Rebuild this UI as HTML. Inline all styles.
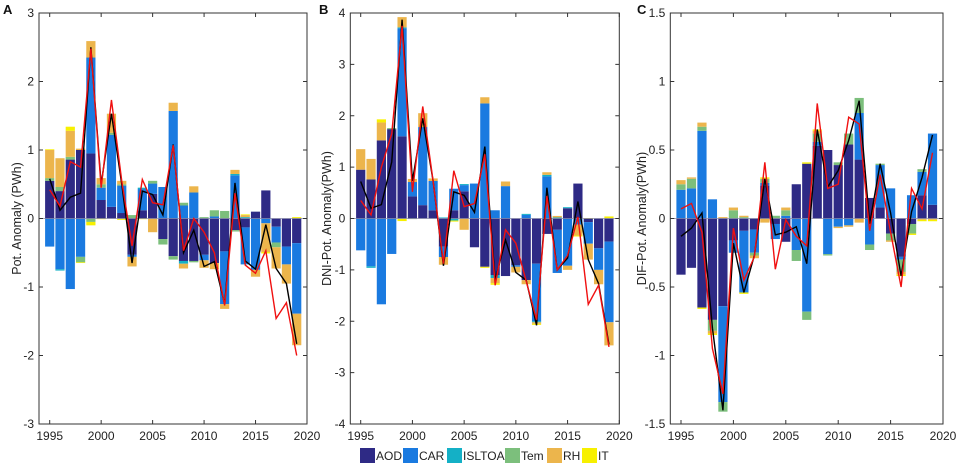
<!DOCTYPE html>
<html><head><meta charset="utf-8"><style>
html,body{margin:0;padding:0;background:#fff;}
svg{display:block;font-family:"Liberation Sans",sans-serif;}
</style></head><body>
<svg id="s" width="957" height="464" viewBox="0 0 957 464" xmlns="http://www.w3.org/2000/svg"></svg>
<script>
const C=['#2e2a85','#1a7ae0','#14b0c6','#7cbf7c','#ecb54c','#f7f000'];
const A=[[.55,-.41,0,.04,.41,.01],[.4,-.74,-.02,.06,.42,0],[.86,-1.03,0,.04,.38,.06],[1.0,-.56,0,-.08,.02,-.01],[.95,1.4,0,-.05,.24,-.05],[.27,.18,0,.05,.09,-.01],[.17,1.05,0,.03,.28,0],[.08,.4,0,.02,.05,-.02],[-.53,-.03,0,.05,-.14,0],[.12,.31,.02,0,0,-.01],[.36,.15,0,.04,-.2,0],[-.3,.46,0,-.08,0,0],[-.55,1.57,0,-.05,.12,0],[-.62,.19,-.04,.04,-.07,0],[-.62,.38,0,-.02,.09,0],[-.53,-.08,0,.02,-.11,0],[-.65,.03,0,.09,-.09,0],[-.48,-.77,0,.11,-.07,0],[-.17,.63,.02,-.02,.06,0],[-.13,-.54,.02,0,.03,.01],[.1,-.75,0,0,-.1,0],[.41,-.07,0,0,-.42,-.02],[-.12,-.23,0,-.07,-.31,0],[-.41,-.26,0,0,-.28,0],[-.36,-1.03,0,0,-.46,.02]];
const Ak=[.58,.12,.31,.37,2.5,.5,1.53,.5,-.65,.4,.35,.05,1.08,-.5,-.17,-.7,-.63,-1.25,.52,-.62,-.74,-.09,-.73,-.95,-1.83];
const Ar=[.42,.18,.83,.75,2.48,.45,1.73,.55,-.4,.57,.23,.2,1.07,-.47,0,-.2,-.5,-1.27,.37,-.68,-.8,-.47,-1.46,-1.23,-2.0];
const B=[[.95,-.62,0,0,.4,0],[.76,-.93,-.03,0,.4,0],[1.52,-1.67,0,0,.35,.06],[1.74,-.69,0,.02,0,0],[1.6,2.1,.02,0,.2,-.05],[.43,.28,0,-.01,.06,0],[.26,1.52,0,0,.27,0],[.16,.57,0,0,.05,0],[-.55,-.2,.02,0,-.15,0],[.16,.42,-.04,0,0,-.02],[.53,.12,.02,0,-.22,0],[-.56,.68,0,0,0,0],[-.94,2.24,0,0,.12,-.02],[-1.1,.16,-.06,0,-.1,-.03],[-1.12,.63,0,0,.09,0],[-.91,-.03,0,0,-.11,0],[-1.2,.07,.02,0,-.08,0],[-.88,-1.12,-.02,0,-.03,-.02],[-.3,.82,.03,0,.05,0],[-.22,-.84,.02,0,.03,0],[.2,-.92,.02,0,-.08,0],[.68,-.12,0,0,-.21,-.02],[-.07,-.42,0,0,-.31,.01],[-.58,-.42,0,0,-.28,0],[-.45,-1.57,0,0,-.45,.04]];
const Bk=[.72,.2,.27,1.1,3.87,.73,1.95,.73,-.92,.52,.45,.12,1.4,-1.2,-.42,-1.05,-1.2,-2.08,.6,-1.0,-.77,.33,-.8,-1.27,-2.45];
const Br=[.35,.07,1.0,1.65,3.75,.52,2.18,.73,-.88,.93,.23,.29,1.25,-1.3,-.22,-.48,-1.22,-1.97,.44,-1.0,-.72,.03,-1.67,-1.3,-2.5];
const Cc=[[-.41,.21,0,.04,.03,0],[-.36,.22,0,.07,.01,0],[-.65,.64,0,.03,.03,-.01],[-.74,.14,0,-.08,-.02,-.01],[-.64,-.7,0,-.07,.01,0],[-.16,-.09,0,.06,.02,0],[-.09,-.45,0,.01,.01,-.01],[-.08,-.17,0,-.02,-.02,0],[.24,.02,0,.03,-.03,.01],[-.04,-.11,0,.02,0,0],[-.17,.02,0,.04,.02,0],[.25,-.23,0,-.08,0,0],[.4,-.68,0,-.06,0,.01],[.53,.03,0,.06,.02,.01],[.5,-.26,0,-.01,0,0],[.39,-.06,0,.02,-.01,0],[.54,-.05,0,.08,-.01,0],[.43,.34,0,.11,-.03,0],[.15,-.19,0,-.04,0,0],[.08,.31,0,.01,0,0],[-.11,.22,0,-.05,-.01,0],[-.28,-.02,0,-.09,-.02,-.01],[-.04,.17,0,-.07,0,-.01],[.17,.17,0,.02,-.01,-.01],[.1,.52,0,0,-.01,-.01]];
const Ck=[-.13,-.07,.04,-.8,-1.4,-.18,-.54,-.27,.29,-.12,-.1,-.06,-.33,.65,.23,.35,.57,.86,-.04,.4,.04,-.42,.05,.3,.61];
const Cr=[.07,.11,-.1,-.95,-1.28,-.07,-.45,-.28,.41,-.37,-.01,-.13,-.2,.84,.22,.25,.74,.69,-.09,.32,-.1,-.5,.22,.07,.48];
let h='';
function panel(L,R,x95,ymax,step,dec,data,blk,red,lab,ylab,labx,ylx){
  const T=13,Bt=424,px=(R-x95)/25,py=(Bt-T)/(2*ymax),y0=(T+Bt)/2;
  const X=y=>x95+(y-1995)*px, Y=v=>y0-v*py;
  data.forEach((d,i)=>{let p=0,n=0;const cx=X(1995+i);
    d.forEach((v,k)=>{if(!v)return;let a,b;if(v>0){a=p;p+=v;b=p}else{a=n;n+=v;b=n}
      const y1=Y(Math.max(a,b)),y2=Y(Math.min(a,b));
      h+=`<rect x="${cx-4.6}" y="${y1}" width="9.2" height="${Math.max(y2-y1,0.6)}" fill="${C[k]}"/>`;});});
  h+=`<line x1="${L}" x2="${R}" y1="${y0}" y2="${y0}" stroke="#8a8aa8" stroke-width="0.8"/>`;
  const pl=(a,c)=>{h+=`<polyline fill="none" stroke="${c}" stroke-width="1.4" points="${a.map((v,i)=>X(1995+i)+','+Y(v)).join(' ')}"/>`;};
  pl(blk,'#000');pl(red,'#f01010');
  h+=`<rect x="${L}" y="${T}" width="${R-L}" height="${Bt-T}" fill="none" stroke="#333" stroke-width="1"/>`;
  for(let yr=1995;yr<=2020;yr+=5){const x=X(yr);
    h+=`<line x1="${x}" x2="${x}" y1="${T}" y2="${T+4}" stroke="#333"/><line x1="${x}" x2="${x}" y1="${Bt}" y2="${Bt-4}" stroke="#333"/>`;
    h+=`<text x="${x}" y="${Bt+16}" font-size="12" text-anchor="middle" fill="#222">${yr}</text>`;}
  for(let v=-ymax;v<=ymax+1e-9;v+=step){const y=Y(v);
    h+=`<line x1="${L}" x2="${L+4}" y1="${y}" y2="${y}" stroke="#333"/><line x1="${R}" x2="${R-4}" y1="${y}" y2="${y}" stroke="#333"/>`;
    let t=Math.abs(v)<1e-9?'0':(dec?v.toFixed(1).replace('.0',''):v.toFixed(0));
    h+=`<text x="${L-5}" y="${y+4}" font-size="12" text-anchor="end" fill="#222">${t}</text>`;}
  h+=`<text x="${labx}" y="14" font-size="13" font-weight="bold" fill="#111">${lab}</text>`;
  h+=`<text transform="translate(${ylx},218.5) rotate(-90)" font-size="12.5" text-anchor="middle" fill="#222">${ylab}</text>`;
}
panel(39,307,49.7,3,1,0,A,Ak,Ar,'A','Pot. Anomaly (PWh)',3,21);
panel(350.3,619.3,360.7,4,1,0,B,Bk,Br,'B','DNI-Pot. Anomaly(PWh)',319,331);
panel(670.3,943,681,1.5,0.5,1,Cc,Ck,Cr,'C','DIF-Pot. Anomaly(PWh)',637,646);
const lg=[['AOD',360],['CAR',403],['ISLTOA',447],['Tem',505],['RH',547],['IT',582]];
lg.forEach((l,i)=>{h+=`<rect x="${l[1]}" y="448" width="15" height="15" fill="${C[i]}"/><text x="${l[1]+16}" y="460" font-size="12" fill="#222">${l[0]}</text>`;});
document.getElementById('s').innerHTML=h;
</script>
</body></html>
